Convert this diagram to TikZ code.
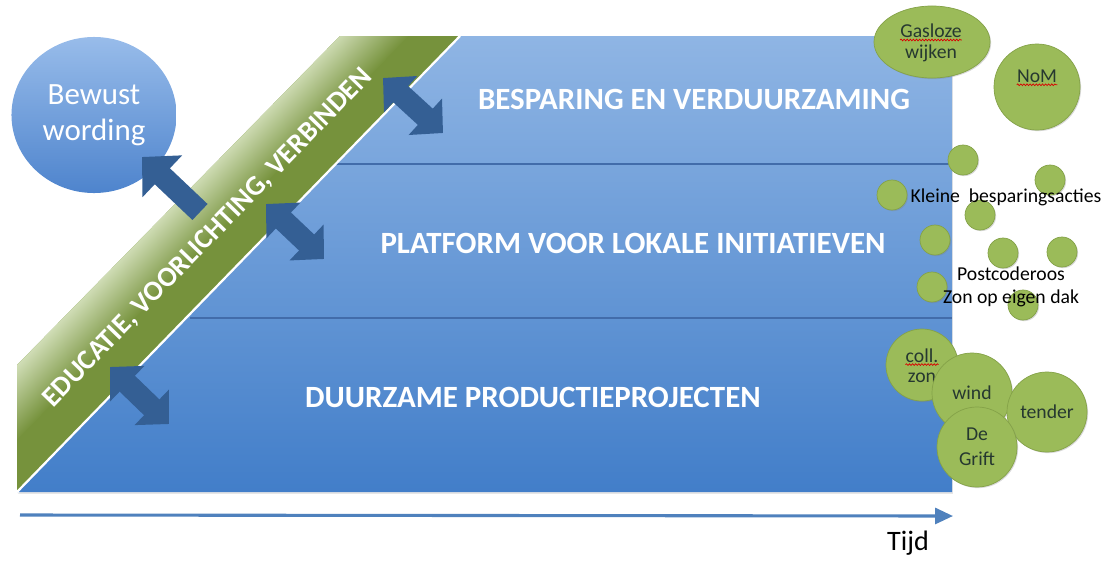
\documentclass[tikz,border=0pt]{standalone}
\usepackage{fontspec}
\setmainfont{Carlito}
\usetikzlibrary{arrows.meta,shadows,shapes.geometric,decorations.pathmorphing,positioning}

\definecolor{boxtop}{RGB}{143,181,228}
\definecolor{boxmid}{RGB}{112,158,221}
\definecolor{boxbot}{RGB}{66,126,201}
\definecolor{bandgreen}{RGB}{118,146,60}
\definecolor{bandlight}{RGB}{214,226,190}
\definecolor{arrowblue}{RGB}{52,95,148}
\definecolor{lineblue}{RGB}{66,108,170}
\definecolor{axisblue}{RGB}{79,129,189}
\definecolor{bubblegreen}{RGB}{155,187,89}
\definecolor{bubbleedge}{RGB}{132,162,72}
\definecolor{bubbletext}{RGB}{38,56,48}
\definecolor{awaretop}{RGB}{152,188,234}
\definecolor{awarebot}{RGB}{78,132,205}

\tikzset{
  blocktip/.tip={Triangle[width=1.2cm,length=0.6cm]},
  bigtip/.tip={Triangle[width=1.4cm,length=0.7cm]},
  linkarrow/.style={draw=arrowblue, line width=0.55cm, blocktip-blocktip},
  pointarrow/.style={draw=arrowblue, line width=0.55cm, -bigtip},
  bluetext/.style={text=white, font=\bfseries\fontsize{22}{26}\selectfont, inner sep=0pt},
  bubble/.style={circle, fill=bubblegreen, draw=bubbleedge, line width=0.5pt, inner sep=0pt,
    text=bubbletext, align=center, font=\fontsize{14}{18}\selectfont,
    drop shadow={shadow xshift=0.8pt, shadow yshift=-0.8pt, opacity=0.3}},
  bubbleword/.style={text=bubbletext, font=\fontsize{14}{18}\selectfont, inner sep=0pt},
  dot/.style={bubble, minimum size=0.75cm},
  smalltext/.style={text=black, align=center, font=\fontsize{14}{16.5}\selectfont, inner sep=0pt},
  divider/.style={draw=lineblue, line width=2pt},
  spell/.style={draw=red!85!black, line width=0.5pt, decorate,
    decoration={snake, amplitude=0.6pt, segment length=2.2pt}},
}

\begin{document}
\begin{tikzpicture}[x=0.025cm, y=-0.025cm]
\useasboundingbox (0,0) rectangle (1109,560);

% outline points
\coordinate (bandBL) at (17,492);
\coordinate (bandTL) at (17,365);
\coordinate (bandTM) at (340,36);
\coordinate (bandTR) at (460,36);
\coordinate (boxTR)  at (952,36);
\coordinate (boxBR)  at (952,492);

% blue field
\shade[top color=boxtop, middle color=boxmid, bottom color=boxbot,
  drop shadow={shadow xshift=0.6pt, shadow yshift=-1.4pt, opacity=0.2}]
  (bandBL) -- (bandTR) -- (boxTR) -- (boxBR) -- cycle;
\coordinate (divA) at (336,164);
\coordinate (divB) at (190,318);
\draw[divider] (divA) -- (divA -| boxTR);
\draw[divider] (divB) -- (divB -| boxTR);

% green band
\fill[bandgreen] (bandBL) -- (bandTL) -- (bandTM) -- (bandTR) -- cycle;
\begin{scope}
  \clip (bandBL) -- (bandTL) -- (bandTM) -- (bandTR) -- cycle;
  \shade[transform canvas={shift={(bandBL)}, rotate=45.9}, top color=bandlight, bottom color=bandgreen]
    (-300,-92) rectangle (900,-36);
\end{scope}
\draw[white, line width=1.6pt] (bandBL) -- (bandTR);
\node[bluetext, font=\bfseries\fontsize{20}{24}\selectfont, rotate=45.9] (edu) at (208,238)
  {EDUCATIE, VOORLICHTING, VERBINDEN};

% layer labels
\node[bluetext] (save)  at (694,99)  {BESPARING EN VERDUURZAMING};
\node[bluetext] (local) at (633,243) {PLATFORM VOOR LOKALE INITIATIEVEN};
\node[bluetext] (prod)  at (533,397) {DUURZAME PRODUCTIEPROJECTEN};

% awareness
\node[ellipse, minimum width=4.125cm, minimum height=3.9cm, top color=awaretop, bottom color=awarebot,
  text=white, align=center, font=\fontsize{22}{25.5}\selectfont] (aware) at (94,115) {Bewust\\wording};

% arrows from the band
\coordinate (awareTail) at (200,212);
\coordinate (awareTip)  at (142,157);
\draw[pointarrow] (awareTail) -- (awareTip);
\coordinate (saveA)  at (383,78);
\coordinate (saveB)  at (443,133);
\draw[linkarrow] (saveA) -- (saveB);
\coordinate (localA) at (266,204);
\coordinate (localB) at (324,259);
\draw[linkarrow] (localA) -- (localB);
\coordinate (prodA)  at (110,367);
\coordinate (prodB)  at (169,424);
\draw[linkarrow] (prodA) -- (prodB);

% projects
\node[bubble, ellipse, minimum width=2.9cm, minimum height=1.8cm] (gas) at (932,42) {};
\node[bubbleword] (gasA) at (931,31) {Gasloze};
\node[bubbleword] (gasB) at (931,53) {wijken};
\draw[spell] ([yshift=-1.6pt]gasA.base west) -- ([yshift=-1.6pt]gasA.base east);
\node[bubble, minimum size=2.15cm] (nom) at (1037,87) {};
\node[bubbleword] (nomA) at (1037,76) {NoM};
\draw[spell] ([yshift=-1.8pt]nomA.base west) -- ([yshift=-1.8pt]nomA.base east);

\foreach \x/\y [count=\i] in {963/160, 892/195, 1050/180, 980/215, 935/240, 1003/253, 1062/252, 932/287, 1023/305}
  \node[dot] (dot\i) at (\x,\y) {};
\node[smalltext] (small) at (1006,197) {Kleine~ besparingsacties};
\node[smalltext] (pcr)   at (1011,287) {Postcoderoos\\Zon op eigen dak};

\node[bubble, minimum size=1.8cm] (coll) at (922,365) {};
\node[bubbleword] (collA) at (922,356) {coll.};
\node[bubbleword] (collB) at (922,378) {zon};
\draw[spell] ([yshift=-1.3pt]collA.base west) -- ([yshift=-1.3pt]collA.base east);
\node[bubble, minimum size=2cm]   (wind)   at (972,393)  {wind};
\node[bubble, minimum size=2cm]   (tender) at (1047,412) {tender};
\node[bubble, minimum size=2cm]   (grift)  at (977,447)  {De\\Grift};

% time axis
\coordinate (axisS) at (20,515);
\coordinate (axisE) at (953,516);
\draw[axisblue, line width=2.2pt, -{Triangle[width=0.4cm,length=0.45cm]}] (axisS) -- (axisE);
\node[font=\fontsize{20}{24}\selectfont, inner sep=0pt] (time) at (908,543) {Tijd};
\end{tikzpicture}
\end{document}
